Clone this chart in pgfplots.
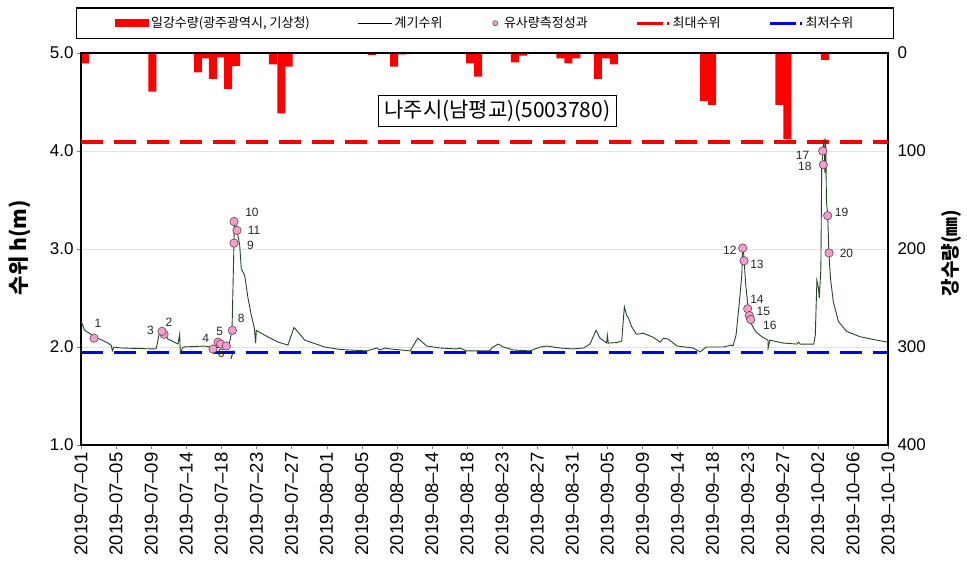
\documentclass[border=0pt]{standalone}
\usepackage{pgfplots}
\pgfplotsset{compat=1.18}
\usepackage{fontspec}
\setmainfont{Liberation Sans}
\newfontfamily\kr{Noto Sans CJK KR}
\definecolor{rainred}{RGB}{255,0,0}
\definecolor{maxred}{RGB}{245,0,0}
\definecolor{minblue}{RGB}{0,0,235}
\definecolor{lvl}{RGB}{35,70,35}
\definecolor{ptfill}{RGB}{240,160,200}
\definecolor{ptdraw}{RGB}{110,60,95}
\begin{document}
\begin{tikzpicture}[x=1pt,y=1pt]
\useasboundingbox (0,0) rectangle (967,571);
% ---------- rainfall axis (right, reversed) ----------
\begin{axis}[
  at={(81pt,126pt)}, anchor=south west,
  width=807pt, height=392pt, scale only axis,
  xmin=0, xmax=101, ymin=0, ymax=400, y dir=reverse,
  axis y line*=right, axis x line=none,
  axis line style={line width=1.5pt},
  ytick={0,100,200,300,400},
  major tick length=4pt,
  /pgf/number format/assume math mode=true,
  yticklabel style={font=\fontsize{17}{20}\selectfont, anchor=west, xshift=6pt},
  ylabel={\kr\bfseries 강수량(㎜)},
  ylabel style={at={(axis description cs:1.079,0.49)}, anchor=center, rotate=0, font=\fontsize{19}{22}\selectfont},
]
\addplot[ybar, bar width=1, bar shift=0pt, fill=rainred, draw=none] coordinates {
(0.48,10.5)(8.92,39.5)(14.64,19.7)(15.58,5.5)(16.5,26.5)(17.4,4.5)(18.4,36.7)(19.4,13.3)
(24.0,11.6)(25.07,61.6)(26.0,14)(36.4,2)(39.2,14)(40.2,1.5)(48.7,10.5)(49.7,24)
(54.3,9.5)(55.3,2.7)(60.0,5.5)(61.0,10.5)(62.0,5.5)(64.7,26.5)(65.7,5.5)(66.7,11.6)
(78.0,49)(79.0,53)(87.4,53)(88.4,87.8)(93.1,7)
};
\end{axis}
% ---------- water level axis (left) ----------
\begin{axis}[
  at={(81pt,126pt)}, anchor=south west,
  width=807pt, height=392pt, scale only axis,
  xmin=0, xmax=101, ymin=1, ymax=5,
  axis line style={line width=1.5pt},
  tick align=outside, major tick length=4pt,
  xtick pos=bottom, ytick pos=left,
  ytick={1,2,3,4,5},
  ymajorgrids, major grid style={gray!22, line width=0.8pt},
  /pgf/number format/assume math mode=true,
  yticklabel={\pgfmathprintnumber[fixed,fixed zerofill,precision=1]{\tick}},
  yticklabel style={font=\fontsize{17}{20}\selectfont},
  xtick={0,4.3913,8.7826,13.1739,17.5652,21.9565,26.3478,30.7391,35.1304,39.5217,43.9130,48.3043,52.6957,57.0870,61.4783,65.8696,70.2609,74.6522,79.0435,83.4348,87.8261,92.2174,96.6087,101},
  xticklabels={2019--07--01,2019--07--05,2019--07--09,2019--07--14,2019--07--18,2019--07--23,2019--07--27,2019--08--01,2019--08--05,2019--08--09,2019--08--14,2019--08--18,2019--08--23,2019--08--27,2019--08--31,2019--09--05,2019--09--09,2019--09--14,2019--09--18,2019--09--23,2019--09--27,2019--10--02,2019--10--06,2019--10--10},
  xticklabel style={rotate=90, anchor=east, font=\fontsize{18.5}{20}\selectfont},
  ylabel={\kr\bfseries 수위 h(m)},
  ylabel style={at={(axis description cs:-0.0756,0.503)}, anchor=center, font=\fontsize{21}{24}\selectfont},
  legend columns=5,
  legend style={at={(axis description cs:0.5006,1.076)}, anchor=center,
    draw=black, line width=1.5pt, font=\kr\fontsize{13}{15}\selectfont,
    inner xsep=38pt, inner ysep=7pt,
    /tikz/every even column/.append style={column sep=46pt}},
]
\addlegendimage{legend image code/.code={\fill[rainred] (0pt,-3.5pt) rectangle (33pt,3.5pt);}}
\addlegendentry{일강수량(광주광역시, 기상청)}
\addlegendimage{legend image code/.code={\draw[black,line width=0.8pt] (0pt,0pt)--(34pt,0pt);}}
\addlegendentry{계기수위}
\addlegendimage{legend image code/.code={\path (0pt,0pt) (10pt,0pt); \draw[ptdraw,fill=ptfill,line width=0.5pt] (4pt,0pt) circle (2.6pt);}}
\addlegendentry{유사량측정성과}
\addlegendimage{legend image code/.code={\draw[maxred,line width=3pt,dash pattern=on 26pt off 4pt] (0pt,0pt)--(32pt,0pt);}}
\addlegendentry{최대수위}
\addlegendimage{legend image code/.code={\draw[minblue,line width=3pt,dash pattern=on 26pt off 4pt] (0pt,0pt)--(32pt,0pt);}}
\addlegendentry{최저수위}
% max / min levels
\addplot[forget plot, maxred, line width=3.5pt, dash pattern=on 22pt off 11pt] coordinates {(0,4.09)(101,4.09)};
\addplot[forget plot, minblue, line width=3.5pt, dash pattern=on 22pt off 11pt] coordinates {(0,1.945)(101,1.945)};
% gauge water level
\addplot[forget plot, lvl, line width=0.9pt] coordinates {
(0.04,2.26)(0.46,2.17)(1.71,2.105)(3.38,2.04)(3.8,2.015)(3.92,1.96)(4.13,2.0)(5.0,1.99)(7.0,1.985)(9.22,1.98)(9.43,1.99)(9.85,2.16)(10.05,2.17)(10.9,2.08)(12.14,2.03)(12.35,2.13)(12.43,1.94)(12.77,2.0)(15.5,2.01)(16.8,1.99)(18.15,2.01)(18.6,2.05)(18.9,2.17)(19.02,2.6)(19.2,3.26)(19.3,3.28)(19.52,3.19)(19.86,3.04)(20.06,2.80)(20.49,2.73)(20.9,2.50)(21.3,2.33)(21.7,2.19)(21.86,2.04)(21.94,2.17)(23.0,2.12)(24.66,2.05)(25.9,2.02)(26.66,2.20)(28.0,2.07)(30.5,2.0)
(32.4,1.975)(35.8,1.96)(37.0,1.99)(37.4,1.97)(38.05,1.99)(38.7,1.98)(41.2,1.96)(42.14,2.09)(43.27,2.01)(44.9,1.99)(47.0,1.98)(47.4,1.99)(48.27,1.96)(51.2,1.96)(51.4,1.99)(52.2,2.03)(52.85,2.00)(54.1,1.97)(56.2,1.96)(57.45,2.00)(58.3,2.01)(59.95,1.99)(61.6,1.98)(62.9,1.99)(63.7,2.03)(64.46,2.17)(64.96,2.09)(65.8,2.04)(65.87,2.12)(66.0,2.04)(67.05,2.045)(67.67,2.06)(68.0,2.41)(68.3,2.32)(68.5,2.30)(68.9,2.21)(69.5,2.13)(70.4,2.14)(71.6,2.10)(72.5,2.05)(72.9,2.09)(73.5,2.08)(74.6,2.01)(76.6,1.99)(77.5,1.95)(78.1,1.99)
(78.3,2.0)(80.4,2.0)(81.4,2.02)(81.6,2.01)(81.98,2.12)(82.4,2.46)(82.7,2.73)(82.8,2.99)(82.9,3.00)(83.0,2.87)(83.2,2.63)(83.5,2.39)(83.8,2.25)(84.4,2.16)(85.2,2.105)(85.98,2.07)(86.0,1.99)(86.2,2.07)(87.9,2.04)(89.6,2.03)(89.8,2.05)(90.0,2.03)(91.7,2.03)(91.9,2.12)(92.1,2.68)(92.3,2.60)(92.4,2.50)(92.6,2.80)(92.7,3.82)(92.9,4.06)(93.0,4.10)(93.1,3.78)(93.2,4.12)(93.3,3.48)(93.45,3.36)(93.6,2.96)(93.8,2.70)(94.16,2.46)(94.8,2.26)(95.8,2.16)(97.5,2.105)(99.6,2.07)(100.9,2.05)
};
% sediment measurement points
\addplot[forget plot, only marks, mark=*, mark size=4.2pt, mark options={fill=ptfill, draw=ptdraw, line width=0.6pt}] coordinates {
(1.63,2.09)(10.39,2.13)(10.14,2.16)(16.52,1.98)(17.15,2.05)(17.48,2.03)(18.19,2.01)(18.95,2.17)(19.15,3.06)(19.15,3.28)(19.52,3.19)
(82.82,3.01)(82.98,2.88)(83.44,2.39)(83.64,2.32)(83.82,2.28)(92.83,4.00)(92.9,3.86)(93.45,3.34)(93.62,2.96)
};
% point labels
\begin{scope}[every node/.style={font=\fontsize{12}{14}\selectfont, text=black!85, inner sep=0pt}]
\node at (axis cs:2.13,2.24) {1};
\node at (axis cs:11.0,2.25) {2};
\node at (axis cs:8.68,2.17) {3};
\node at (axis cs:15.6,2.09) {4};
\node at (axis cs:17.36,2.16) {5};
\node at (axis cs:17.56,1.93) {6};
\node at (axis cs:18.9,1.91) {7};
\node at (axis cs:20.06,2.29) {8};
\node at (axis cs:21.2,3.04) {9};
\node at (axis cs:21.4,3.37) {10};
\node at (axis cs:21.65,3.19) {11};
\node at (axis cs:81.2,2.99) {12};
\node at (axis cs:84.6,2.84) {13};
\node at (axis cs:84.6,2.49) {14};
\node at (axis cs:85.4,2.36) {15};
\node at (axis cs:86.2,2.22) {16};
\node at (axis cs:90.3,3.96) {17};
\node at (axis cs:90.6,3.84) {18};
\node at (axis cs:95.2,3.37) {19};
\node at (axis cs:95.8,2.96) {20};
\end{scope}
\node[draw=black, line width=0.8pt, fill=white, inner xsep=6pt, inner ysep=5pt, font=\kr\fontsize{21}{23}\selectfont] at (rel axis cs:0.516,0.852) {나주시(남평교)(5003780)};
\end{axis}
\end{tikzpicture}
\end{document}
